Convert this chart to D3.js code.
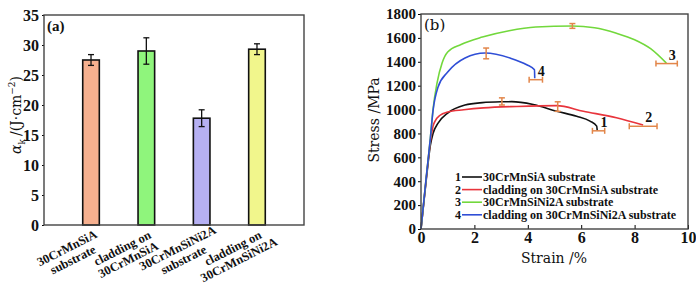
<!DOCTYPE html>
<html lang="en">
<head>
<meta charset="UTF-8">
<title>Impact toughness and stress-strain</title>
<script src="https://cdn.jsdelivr.net/npm/d3@7"></script>
<style>
  body { margin: 0; background: #fff; }
  text { font-family: "Liberation Serif", "DejaVu Serif", serif; fill: #111; }
  .title { font-family: "DejaVu Serif", serif; }
</style>
</head>
<body>
<script>
// ---- panel (a) data ----
const samples = ["30CrMnSiA|substrate", "cladding on|30CrMnSiA", "30CrMnSiNi2A|substrate", "cladding on|30CrMnSiNi2A"];
const toughness = [27.5, 29.0, 17.8, 29.3];
const toughnessErr = [0.9, 2.2, 1.4, 0.9];
const barColors = ["#f6b08f", "#8ff57c", "#b6b0f2", "#f1f68c"];
const yTicksA = [0, 5, 10, 15, 20, 25, 30, 35];

// ---- panel (b) data ----
const curveNames = ["30CrMnSiA substrate", "cladding on 30CrMnSiA substrate", "30CrMnSiNi2A substrate", "cladding on 30CrMnSiNi2A substrate"];
const curveColors = ["#111111", "#e8343c", "#72d83c", "#2f4ed6"];
const strain1 = [0, 0.2, 0.35, 0.45, 0.64, 1.0, 1.65, 2.3, 3.0, 3.4, 4.2, 5.08, 5.83, 6.33, 6.58, 6.6];
const stress1 = [0, 420, 700, 800, 887, 971, 1038, 1058, 1065, 1066, 1042, 986, 944, 903, 861, 825];
const strain2 = [0, 0.2, 0.35, 0.45, 0.55, 0.7, 1.0, 1.6, 2.34, 3.59, 5.08, 6.08, 7.32, 8.32];
const stress2 = [0, 430, 730, 860, 912, 950, 980, 998, 1014, 1026, 1033, 986, 931, 870];
const strain3 = [0, 0.2, 0.35, 0.45, 0.6, 0.79, 1.0, 1.5, 2.3, 3.3, 4.3, 5.67, 6.5, 7.32, 8.0, 8.6, 9.19];
const stress3 = [0, 440, 760, 1000, 1222, 1390, 1482, 1545, 1607, 1660, 1691, 1700, 1685, 1639, 1585, 1510, 1389];
const strain4 = [0, 0.2, 0.35, 0.45, 0.64, 1.0, 1.65, 2.4, 3.34, 3.96, 4.25, 4.26];
const stress4 = [0, 440, 760, 990, 1189, 1314, 1432, 1473, 1431, 1375, 1333, 1262];
// error bars: [strain, stress, err], vertical at peak, horizontal at fracture
const peakErr = [[3.03, 1068, 30], [5.12, 1025, 40], [5.67, 1700, 20], [2.44, 1470, 45]];
const endErr = [[6.65, 822, 0.23], [8.32, 860, 0.52], [9.2, 1385, 0.4], [4.3, 1250, 0.25]];
const xTicksB = [0, 2, 4, 6, 8, 10];
const yTicksB = [0, 200, 400, 600, 800, 1000, 1200, 1400, 1600, 1800];

const serif = '"Liberation Serif", serif';
const svg = d3.select("body").append("svg").attr("width", 696).attr("height", 288);

// ================= panel (a) =================
const ax = d3.scaleBand().domain(samples).range([44, 304]).padding(0.7);
const ay = d3.scaleLinear().domain([0, 35]).range([225, 15]);
const ga = svg.append("g");

ga.selectAll("rect.bar").data(samples).join("rect")
  .attr("class", "bar")
  .attr("x", d => ax(d)).attr("width", ax.bandwidth())
  .attr("y", (d, i) => ay(toughness[i]))
  .attr("height", (d, i) => ay(0) - ay(toughness[i]))
  .attr("fill", (d, i) => barColors[i])
  .attr("stroke", "#111").attr("stroke-width", 1.6);

const errA = ga.selectAll("g.err").data(samples).join("g").attr("stroke", "#111").attr("stroke-width", 1.3);
errA.append("line")
  .attr("x1", d => ax(d) + ax.bandwidth() / 2).attr("x2", d => ax(d) + ax.bandwidth() / 2)
  .attr("y1", (d, i) => ay(toughness[i] - toughnessErr[i])).attr("y2", (d, i) => ay(toughness[i] + toughnessErr[i]));
[-1, 1].forEach(s => {
  errA.append("line")
    .attr("x1", d => ax(d) + ax.bandwidth() / 2 - 3).attr("x2", d => ax(d) + ax.bandwidth() / 2 + 3)
    .attr("y1", (d, i) => ay(toughness[i] + s * toughnessErr[i])).attr("y2", (d, i) => ay(toughness[i] + s * toughnessErr[i]));
});

ga.append("g").attr("transform", "translate(44,0)")
  .call(d3.axisLeft(ay).tickValues(yTicksA).tickSize(2).tickPadding(3))
  .call(g => g.select(".domain").remove())
  .selectAll("text").style("font-family", serif).style("font-weight", "bold")
  .style("font-size", "16px").attr("fill", "#111");

ga.append("rect").attr("x", 44).attr("y", 15).attr("width", 260).attr("height", 210)
  .attr("fill", "none").attr("stroke", "#444").attr("stroke-width", 1.4);

ga.append("text").attr("x", 47).attr("y", 31).style("font-size", "15px").style("font-weight", "bold").text("(a)");

samples.forEach(d => {
  const lines = d.split("|");
  const t = ga.append("text")
    .attr("transform", `translate(${ax(d) + ax.bandwidth() / 2 - 21},254) rotate(-27)`)
    .attr("text-anchor", "middle").style("font-size", "12.5px").style("font-weight", "bold");
  lines.forEach((l, k) => t.append("tspan").attr("x", 0).attr("y", (k - 0.5) * 13 + 4).text(l));
});

const ylabA = ga.append("text").attr("class", "title").attr("transform", "translate(21,115) rotate(-90)")
  .attr("text-anchor", "middle").style("font-size", "14px");
ylabA.append("tspan").style("font-style", "italic").text("α");
ylabA.append("tspan").attr("dy", 4).style("font-size", "9px").text("k");
ylabA.append("tspan").attr("dy", -4).attr("dx", 3).text("/(J·cm");
ylabA.append("tspan").attr("dy", -6).style("font-size", "9px").text("−2");
ylabA.append("tspan").attr("dy", 6).text(")");

// ================= panel (b) =================
const bx = d3.scaleLinear().domain([0, 10]).range([421, 688]);
const by = d3.scaleLinear().domain([0, 1800]).range([229, 14]);
const gb = svg.append("g");

gb.append("g").attr("transform", "translate(0,229)")
  .call(d3.axisBottom(bx).tickValues(xTicksB).tickSize(-4).tickPadding(3).tickFormat(d3.format("d")))
  .call(g => g.select(".domain").remove())
  .selectAll("text").style("font-family", serif).style("font-weight", "bold")
  .style("font-size", "16px").attr("fill", "#111");
gb.append("g").attr("transform", "translate(421,0)")
  .call(d3.axisLeft(by).tickValues(yTicksB).tickSize(3).tickPadding(2).tickFormat(d3.format("d")))
  .call(g => g.select(".domain").remove())
  .selectAll("text").style("font-family", serif).style("font-weight", "bold")
  .style("font-size", "15px").attr("fill", "#111");

const series = [[strain1, stress1], [strain2, stress2], [strain3, stress3], [strain4, stress4]];
const line = d3.line().x(d => bx(d[0])).y(d => by(d[1])).curve(d3.curveMonotoneX);
series.forEach(([xs, ys], i) => {
  gb.append("path").datum(xs.map((x, k) => [x, ys[k]]))
    .attr("d", line).attr("fill", "none")
    .attr("stroke", curveColors[i]).attr("stroke-width", 1.6);
});

const errColor = "#e2864a";
peakErr.forEach(([x, y, e]) => {
  const g = gb.append("g").attr("stroke", errColor).attr("stroke-width", 1.5);
  g.append("line").attr("x1", bx(x)).attr("x2", bx(x)).attr("y1", by(y - e)).attr("y2", by(y + e));
  [-1, 1].forEach(s => g.append("line").attr("x1", bx(x) - 3).attr("x2", bx(x) + 3)
    .attr("y1", by(y + s * e)).attr("y2", by(y + s * e)));
});
endErr.forEach(([x, y, e]) => {
  const g = gb.append("g").attr("stroke", errColor).attr("stroke-width", 1.5);
  g.append("line").attr("x1", bx(x - e)).attr("x2", bx(x + e)).attr("y1", by(y)).attr("y2", by(y));
  [-1, 1].forEach(s => g.append("line").attr("x1", bx(x + s * e)).attr("x2", bx(x + s * e))
    .attr("y1", by(y) - 3).attr("y2", by(y) + 3));
});

// curve numbers near fracture points
endErr.forEach(([x, y], i) => {
  gb.append("text").attr("x", bx(x) + 2).attr("y", by(y) - 4)
    .style("font-size", "14px").style("font-weight", "bold").text(i + 1);
});

gb.append("rect").attr("x", 421).attr("y", 14).attr("width", 267).attr("height", 215)
  .attr("fill", "none").attr("stroke", "#444").attr("stroke-width", 1.4);

gb.append("text").attr("class", "title").attr("x", 424).attr("y", 30).style("font-size", "15px").text("(b)");

const leg = gb.append("g").attr("transform", "translate(455,177)");
curveNames.forEach((name, i) => {
  const row = leg.append("g").attr("transform", `translate(0,${i * 12.6})`);
  row.append("text").attr("x", 0).attr("y", 4).style("font-size", "12px").style("font-weight", "bold").text(i + 1);
  row.append("line").attr("x1", 7).attr("x2", 27).attr("y1", 0).attr("y2", 0)
    .attr("stroke", curveColors[i]).attr("stroke-width", 1.6);
  row.append("text").attr("x", 28).attr("y", 4).style("font-size", "12px").style("font-weight", "bold").text(name);
});

gb.append("text").attr("class", "title").attr("transform", "translate(379,120) rotate(-90)")
  .attr("text-anchor", "middle").style("font-size", "14px").text("Stress /MPa");
gb.append("text").attr("class", "title").attr("x", 554).attr("y", 263)
  .attr("text-anchor", "middle").style("font-size", "14px").text("Strain /%");
</script>
</body>
</html>
